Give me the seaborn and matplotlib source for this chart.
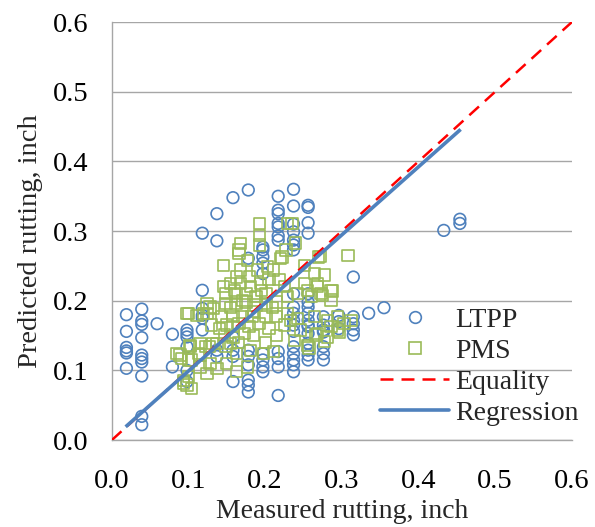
import matplotlib
matplotlib.use("Agg")
import matplotlib.pyplot as plt
from matplotlib.lines import Line2D
import seaborn as sns
import pandas as pd

# ---------------- data ----------------
ltpp_x = [0.019]*6 + [0.039]*10 + [0.059] + [0.079]*2 + [0.098]*6 + [0.118]*6 + [0.137]*4 \
    + [0.158]*5 + [0.178]*8 + [0.197]*9 + [0.217]*11 + [0.237]*18 + [0.256]*16 + [0.276]*7 \
    + [0.296]*3 + [0.315]*5 + [0.335, 0.355, 0.433, 0.454, 0.454]
ltpp_y = [0.180, 0.156, 0.133, 0.128, 0.125, 0.103,
          0.188, 0.171, 0.166, 0.147, 0.122, 0.117, 0.112, 0.092, 0.034, 0.022,
          0.167,
          0.152, 0.105,
          0.158, 0.153, 0.148, 0.134, 0.100, 0.084,
          0.297, 0.215, 0.189, 0.179, 0.175, 0.158,
          0.325, 0.286, 0.129, 0.120,
          0.348, 0.148, 0.129, 0.120, 0.084,
          0.359, 0.261, 0.129, 0.120, 0.108, 0.086, 0.079, 0.069,
          0.277, 0.273, 0.263, 0.254, 0.239, 0.124, 0.115, 0.105, 0.098,
          0.350, 0.330, 0.325, 0.311, 0.306, 0.293, 0.287, 0.127, 0.117, 0.105, 0.064,
          0.360, 0.336, 0.310, 0.299, 0.287, 0.280, 0.273, 0.210, 0.191, 0.182, 0.172, 0.165,
          0.156, 0.134, 0.124, 0.115, 0.108, 0.098,
          0.337, 0.334, 0.312, 0.297, 0.210, 0.198, 0.191, 0.182, 0.172, 0.165, 0.163, 0.153,
          0.139, 0.129, 0.122, 0.115,
          0.177, 0.165, 0.158, 0.155, 0.134, 0.124, 0.115,
          0.179, 0.170, 0.160,
          0.234, 0.177, 0.167, 0.158, 0.151,
          0.182, 0.190, 0.301, 0.317, 0.311]

pms_x = [0.193, 0.229, 0.235, 0.193, 0.168, 0.193, 0.240, 0.166, 0.166, 0.146, 0.177, 0.220,
         0.227, 0.270, 0.211, 0.203, 0.190, 0.168, 0.163, 0.251, 0.264, 0.277, 0.218, 0.146,
         0.155, 0.168, 0.181, 0.194, 0.149, 0.162, 0.175, 0.188, 0.201, 0.229, 0.242, 0.255,
         0.268, 0.286, 0.149, 0.162, 0.175, 0.188, 0.201, 0.214, 0.124, 0.124, 0.133, 0.100,
         0.111, 0.143, 0.158, 0.170, 0.183, 0.201, 0.214, 0.158, 0.166, 0.179, 0.192, 0.205,
         0.229, 0.233, 0.264, 0.281, 0.147, 0.158, 0.173, 0.137, 0.149, 0.155, 0.127, 0.115,
         0.103, 0.089, 0.100, 0.115, 0.128, 0.137, 0.150, 0.163, 0.181, 0.198, 0.211, 0.163,
         0.177, 0.115, 0.124, 0.093, 0.104, 0.093, 0.238, 0.246, 0.268, 0.281, 0.294, 0.273,
         0.286, 0.251, 0.268, 0.275, 0.260, 0.242, 0.294, 0.303, 0.312, 0.297, 0.286, 0.266,
         0.277, 0.255, 0.257, 0.098, 0.120, 0.128, 0.085, 0.091, 0.104, 0.113, 0.100, 0.098,
         0.122, 0.131, 0.102, 0.308, 0.272, 0.288, 0.222, 0.155, 0.185, 0.210, 0.170, 0.195,
         0.180, 0.160, 0.205, 0.225, 0.150, 0.185, 0.200, 0.215, 0.225, 0.165, 0.140, 0.130]
pms_y = [0.311, 0.311, 0.311, 0.294, 0.282, 0.280, 0.283, 0.273, 0.268, 0.251, 0.258, 0.261,
         0.273, 0.263, 0.244, 0.249, 0.244, 0.244, 0.234, 0.251, 0.239, 0.237, 0.230, 0.220,
         0.225, 0.225, 0.220, 0.225, 0.210, 0.210, 0.210, 0.206, 0.210, 0.206, 0.210, 0.215,
         0.225, 0.215, 0.196, 0.196, 0.198, 0.194, 0.196, 0.198, 0.196, 0.182, 0.189, 0.182,
         0.179, 0.177, 0.177, 0.177, 0.177, 0.177, 0.177, 0.163, 0.167, 0.163, 0.167, 0.160,
         0.182, 0.172, 0.177, 0.172, 0.151, 0.148, 0.153, 0.139, 0.134, 0.139, 0.134, 0.139,
         0.134, 0.122, 0.115, 0.122, 0.110, 0.103, 0.110, 0.124, 0.129, 0.124, 0.127, 0.098,
         0.105, 0.105, 0.096, 0.086, 0.074, 0.082, 0.143, 0.158, 0.153, 0.148, 0.158, 0.210,
         0.201, 0.225, 0.220, 0.208, 0.206, 0.175, 0.177, 0.167, 0.172, 0.155, 0.163, 0.151,
         0.141, 0.136, 0.132, 0.182, 0.182, 0.191, 0.124, 0.117, 0.115, 0.124, 0.091, 0.079,
         0.134, 0.139, 0.136, 0.265, 0.264, 0.214, 0.263, 0.190, 0.185, 0.190, 0.200, 0.215,
         0.235, 0.215, 0.230, 0.220, 0.165, 0.150, 0.140, 0.150, 0.165, 0.140, 0.160, 0.165]

equality_x = [0.0, 0.6]
equality_y = [0.0, 0.6]
regression_x = [0.018, 0.455]
regression_y = [0.019, 0.446]

ticks = [0.0, 0.1, 0.2, 0.3, 0.4, 0.5, 0.6]
tick_labels = ["0.0", "0.1", "0.2", "0.3", "0.4", "0.5", "0.6"]
x_label = "Measured rutting, inch"
y_label = "Predicted rutting, inch"
series_names = ["LTPP", "PMS", "Equality", "Regression"]

# ---------------- style ----------------
sns.set_theme(style="white")
plt.rcParams["font.family"] = ["Liberation Serif", "DejaVu Serif"]

BLUE = "#4F81BD"
GREEN = "#9BBB59"
RED = "#FF0000"
GRID = "#A6A6A6"
FS_TICK = 20.5
FS_LAB = 20
FS_LEG = 20

fig = plt.figure(figsize=(5.95, 5.27), dpi=100)
ax = fig.add_axes([0.188, 0.165, 0.773, 0.793])

ltpp = pd.DataFrame({"x": ltpp_x, "y": ltpp_y})
pms = pd.DataFrame({"x": pms_x, "y": pms_y})

sns.scatterplot(data=ltpp, x="x", y="y", ax=ax, marker="o", s=70,
                facecolor="none", edgecolor=BLUE, linewidth=1.2, zorder=3)
sns.scatterplot(data=pms, x="x", y="y", ax=ax, marker="s", s=66,
                facecolor="none", edgecolor=GREEN, linewidth=1.2, zorder=4)

ax.plot(equality_x, equality_y, color=RED, lw=1.8, dashes=(5.2, 3.2), zorder=5)
ax.plot(regression_x, regression_y, color=BLUE, lw=2.6, solid_capstyle="butt", zorder=6)

ax.set_xlim(0, 0.6)
ax.set_ylim(0, 0.6)
ax.set_xticks(ticks)
ax.set_xticklabels(tick_labels)
ax.set_yticks(ticks)
ax.set_yticklabels(tick_labels)
ax.set_xlabel(x_label, fontsize=FS_LAB, labelpad=4)
ax.set_ylabel(y_label, fontsize=FS_TICK)
ax.yaxis.set_label_coords(-0.15, 0.476)
ax.tick_params(axis="both", labelsize=FS_TICK, direction="out", length=6,
               width=1.0, color=GRID, labelcolor="black")
ax.tick_params(axis="x", pad=14.5)
ax.tick_params(axis="y", pad=11)

ax.yaxis.grid(True, color=GRID, lw=1.0)
ax.xaxis.grid(False)
ax.set_axisbelow(True)
for side in ["top", "right"]:
    ax.spines[side].set_visible(False)
for side in ["left", "bottom"]:
    ax.spines[side].set_color(GRID)
    ax.spines[side].set_linewidth(1.0)

handles = [
    Line2D([], [], linestyle="none", marker="o", markersize=8.4, markerfacecolor="none",
           markeredgecolor=BLUE, markeredgewidth=1.2),
    Line2D([], [], linestyle="none", marker="s", markersize=8.1, markerfacecolor="none",
           markeredgecolor=GREEN, markeredgewidth=1.2),
    Line2D([], [], color=RED, lw=1.8, dashes=(5.2, 3.2)),
    Line2D([], [], color=BLUE, lw=2.6),
]
ax.legend(handles, series_names, loc="upper left", bbox_to_anchor=(0.583, 0.318),
          frameon=False, fontsize=FS_LEG, borderpad=0, borderaxespad=0,
          handlelength=2.5, handletextpad=0.2, labelspacing=0.2)

fig.savefig("out.png", dpi=100)
